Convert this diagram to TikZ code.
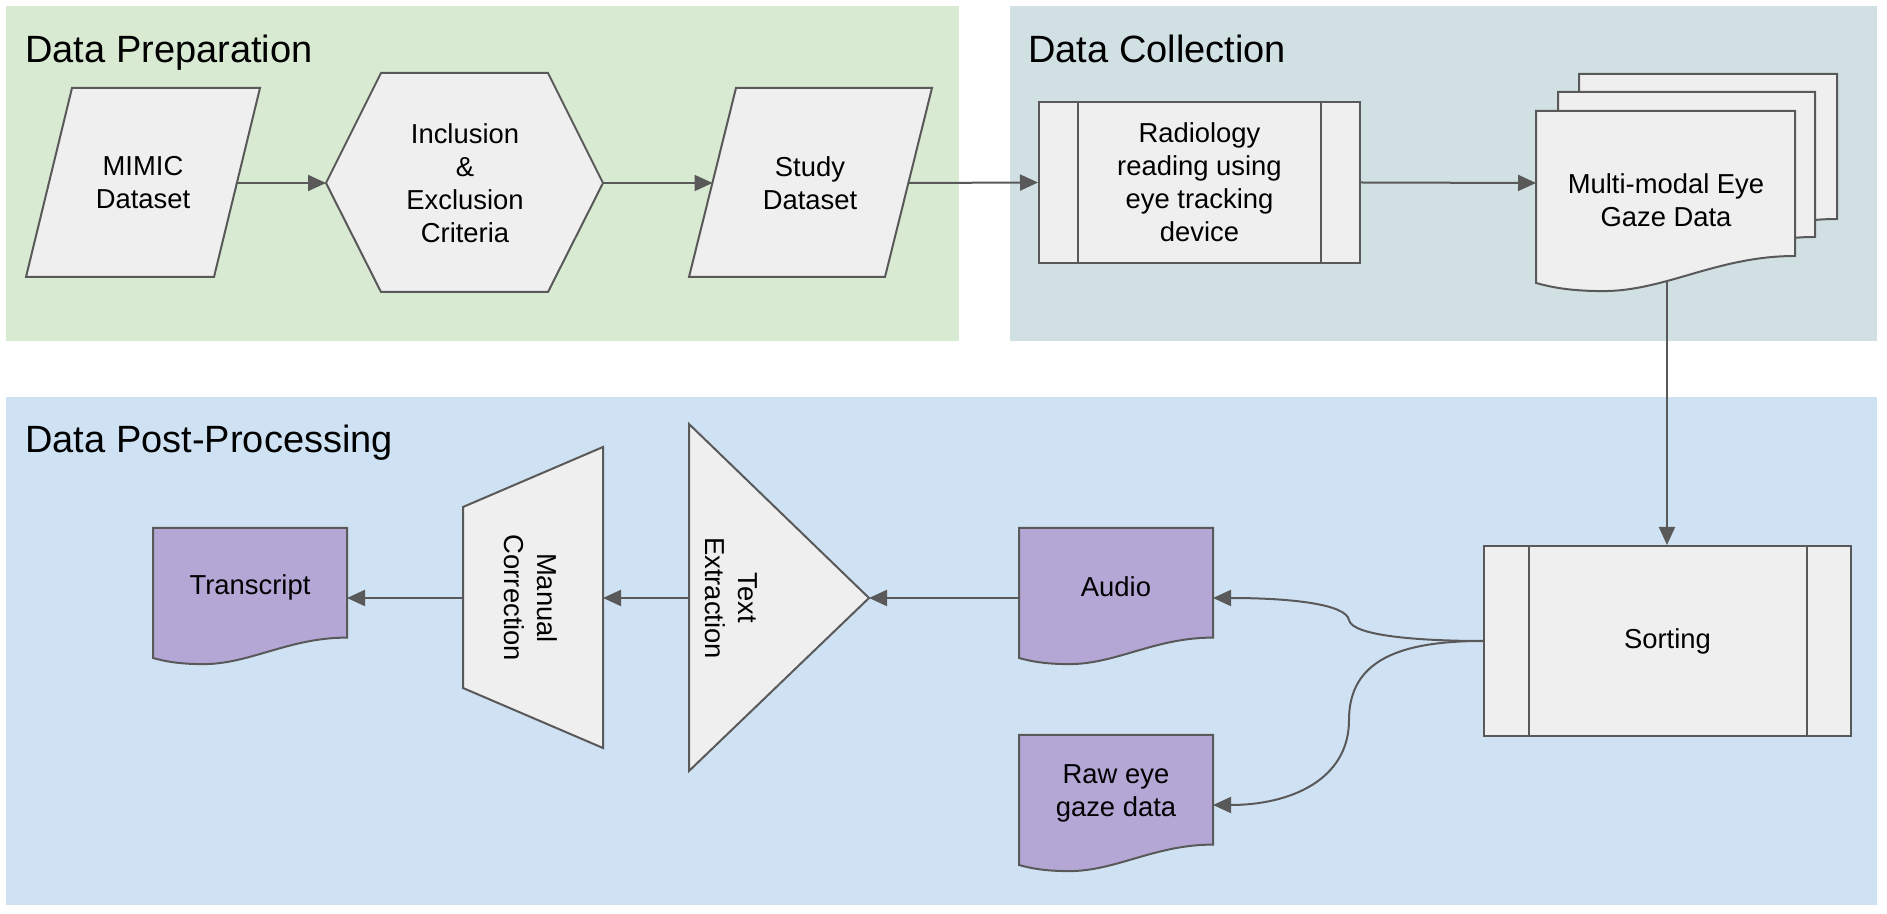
\documentclass[tikz,border=0pt]{standalone}
\usepackage{fontspec}
\setmainfont{Liberation Sans}
\usetikzlibrary{arrows.meta}
\definecolor{prepbg}{HTML}{D9EAD3}
\definecolor{collbg}{HTML}{D0E0E3}
\definecolor{postbg}{HTML}{CFE2F3}
\definecolor{shapefill}{HTML}{EFEFEF}
\definecolor{docpurple}{HTML}{B4A7D6}
\definecolor{edgecol}{HTML}{595959}
% document shape: style, left, top, width, height (to left bottom)
\newcommand\mydoc[5]{%
\path[#1] (#2,#3) -- ({#2+#4},#3) -- ({#2+#4},{#3+0.843*#5})
 .. controls ({#2+0.7*#4},{#3+0.843*#5}) and ({#2+0.5*#4},{#3+1.047*#5}) .. ({#2+0.26*#4},{#3+1.047*#5})
 .. controls ({#2+0.12*#4},{#3+1.047*#5}) and ({#2+0.05*#4},{#3+1.02*#5}) .. (#2,{#3+#5}) -- cycle;}
\begin{document}
\begin{tikzpicture}[x=0.5pt,y=-0.5pt,
 shp/.style={draw=edgecol,fill=shapefill,line width=1pt},
 pshp/.style={draw=edgecol,fill=docpurple,line width=1pt},
 bar/.style={draw=edgecol,line width=1pt},
 txt/.style={font=\fontsize{13.7}{16.5}\selectfont,align=center,inner sep=0pt},
 ttl/.style={font=\fontsize{19}{23}\selectfont,anchor=base west,inner sep=0pt},
 conn/.style={draw=edgecol,line width=1pt,-{Triangle[length=9pt,width=8pt]}}]
\useasboundingbox (0,0) rectangle (1887,914);
\fill[white] (0,0) rectangle (1887,914);
% panels
\fill[prepbg] (6,6) rectangle (959,341);
\fill[collbg] (1010,6) rectangle (1877,341);
\fill[postbg] (6,397) rectangle (1877,905);
% titles
\node[ttl] (tprep) at (25,63) {Data Preparation};
\node[ttl] (tcoll) at (1028,63) {Data Collection};
\node[ttl] (tpost) at (25,453) {Data Post-Processing};
% MIMIC
\draw[shp] (72,88) -- (260,88) -- (214,277) -- (26,277) -- cycle;
\node[txt] (mimic) at (143,183) {MIMIC\\Dataset};
\coordinate (mimicR) at (237,183);
% Inclusion hexagon
\draw[shp] (381,73) -- (548,73) -- (603,183) -- (548,292) -- (381,292) -- (326,183) -- cycle;
\node[txt] (incl) at (465,183) {Inclusion\\\&\\Exclusion\\Criteria};
\coordinate (inclL) at (326,183);
\coordinate (inclR) at (603,183);
% Study
\draw[shp] (736,88) -- (932,88) -- (885,277) -- (689,277) -- cycle;
\node[txt] (study) at (810,183) {Study\\Dataset};
\coordinate (studyL) at (712.5,183);
\coordinate (studyR) at (908.5,183);
% Radiology
\node[shp,txt,minimum width=160.5pt,minimum height=80.5pt] (rad) at (1199.5,182.5) {Radiology\\reading using\\eye tracking\\device};
\draw[bar] ([xshift=20pt]rad.north west) -- ([xshift=20pt]rad.south west);
\draw[bar] ([xshift=-20pt]rad.north east) -- ([xshift=-20pt]rad.south east);
% Multi-modal stacked documents
\mydoc{shp}{1579}{74}{258}{172}
\mydoc{shp}{1558}{92}{257}{172}
\mydoc{shp}{1536}{111}{259}{172}
\node[txt] (multi) at (1666,200) {Multi-modal Eye\\Gaze Data};
\coordinate (multiL) at (1536,183);
\coordinate (multiB) at (1667,281);
% Sorting
\node[shp,txt,minimum width=183.5pt,minimum height=95pt] (sort) at (1667.5,641) {Sorting};
\draw[bar] ([xshift=23pt]sort.north west) -- ([xshift=23pt]sort.south west);
\draw[bar] ([xshift=-22.5pt]sort.north east) -- ([xshift=-22.5pt]sort.south east);
% Audio
\mydoc{pshp}{1019}{528}{194}{130}
\node[txt] (audio) at (1116,587) {Audio};
\coordinate (audioR) at (1213,598);
\coordinate (audioL) at (1019,598);
% Raw eye gaze data
\mydoc{pshp}{1019}{735}{194}{130}
\node[txt] (raw) at (1116,793) {Raw eye\\gaze data};
\coordinate (rawR) at (1213,805);
% Transcript
\mydoc{pshp}{153}{528}{194}{130}
\node[txt] (trans) at (250,587) {Transcript};
\coordinate (transR) at (347,598);
% Text extraction triangle
\draw[shp] (689,424) -- (869,598) -- (689,771) -- cycle;
\node[txt,rotate=-90] (textx) at (731,598) {Text\\Extraction};
\coordinate (triR) at (869,598);
\coordinate (triL) at (689,598);
% Manual correction trapezoid
\draw[shp] (463,507) -- (603,447) -- (603,748) -- (463,688) -- cycle;
\node[txt,rotate=-90] (manual) at (531,598) {Manual\\Correction};
\coordinate (trapR) at (603,598);
\coordinate (trapL) at (463,598);
% connectors
\draw[conn] (mimicR) -- (inclL);
\draw[conn] (inclR) -- (studyL);
\draw[conn] (studyR) -- (rad.west);
\draw[conn] (rad.east) -- (multiL);
\draw[conn] (multiB) -- (multiB |- sort.north);
\draw[conn] (sort.west) .. controls (1420,641) and (1352,636) .. (1349,620) .. controls (1346,604) and (1290,598) .. (audioR);
\draw[conn] (sort.west) .. controls (1400,641) and (1349,660) .. (1349,720) .. controls (1349,780) and (1290,805) .. (rawR);
\draw[conn] (audioL) -- (triR);
\draw[conn] (triL) -- (trapR);
\draw[conn] (trapL) -- (transR);
\end{tikzpicture}
\end{document}
